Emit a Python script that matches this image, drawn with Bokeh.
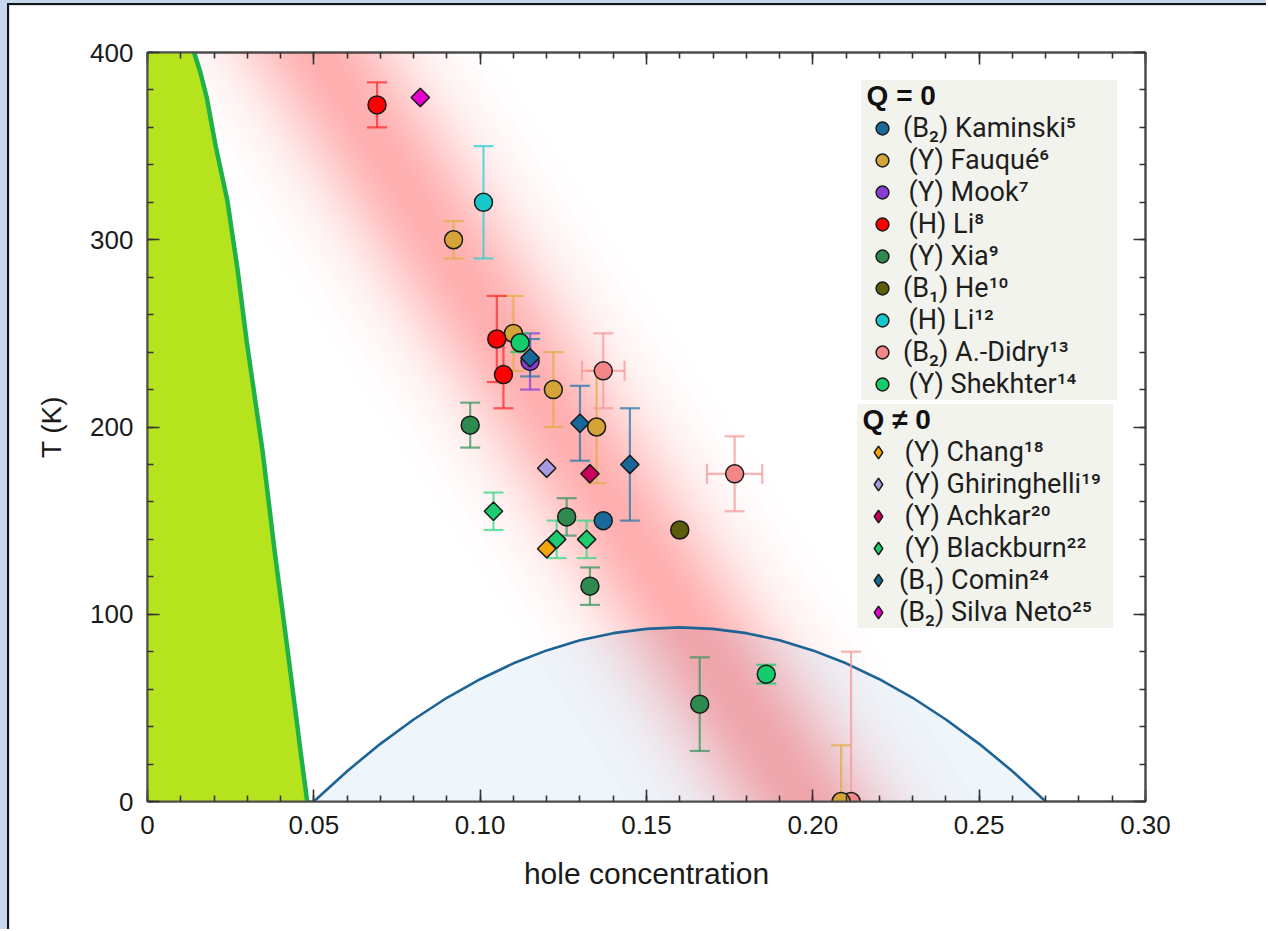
import numpy as np
from bokeh.plotting import figure
from bokeh.models import (ColumnDataSource, Legend, LegendItem, LinearAxis,
                          FixedTicker, Range1d)
from bokeh.layouts import column
from bokeh.embed import file_html
from bokeh.resources import INLINE

# ---------------- data ----------------
x_ticks = [0, 0.05, 0.10, 0.15, 0.20, 0.25, 0.30]
x_tick_labels = ["0", "0.05", "0.10", "0.15", "0.20", "0.25", "0.30"]
y_ticks = [0, 100, 200, 300, 400]
y_tick_labels = ["0", "100", "200", "300", "400"]

# superconducting dome
dome_p = [0.05, 0.06, 0.07, 0.08, 0.09, 0.10, 0.11, 0.12, 0.13, 0.14, 0.15, 0.16,
          0.17, 0.18, 0.19, 0.20, 0.21, 0.22, 0.23, 0.24, 0.25, 0.26, 0.27]
dome_T = [0, 16.2, 30.8, 43.8, 55.4, 65.3, 73.8, 80.7, 86.1, 89.9, 92.2, 93.0,
          92.2, 89.9, 86.1, 80.7, 73.8, 65.3, 55.4, 43.8, 30.8, 16.2, 0]

# antiferromagnetic boundary
af_p = [0.0, 0.0140, 0.0158, 0.0178, 0.0205, 0.024, 0.027, 0.0298, 0.0346, 0.0382, 0.0421, 0.046, 0.048]
af_T = [400, 400, 390, 376, 350, 321, 285, 246, 187, 134, 81, 27, 0]

# Q = 0 series
kaminski_p = [0.137]; kaminski_T = [150]
fauque_p = [0.092, 0.110, 0.122, 0.135, 0.2085]; fauque_T = [300, 250, 220, 200, 0]; fauque_err = [10, 20, 20, 30, 30]
mook_p = [0.115]; mook_T = [235]; mook_err = [15]
li8_p = [0.069, 0.105, 0.107]; li8_T = [372, 247, 228]; li8_err = [12, 23, 18]
xia_p = [0.097, 0.126, 0.133, 0.166]; xia_T = [201, 152, 115, 52]; xia_err = [12, 10, 10, 25]
he_p = [0.160]; he_T = [145]
li12_p = [0.101]; li12_T = [320]; li12_err = [30]
didry_p = [0.137, 0.1765, 0.2115]; didry_T = [230, 175, 0]; didry_err = [20, 20, 80]; didry_xerr = [0.0064, 0.0083, 0]
shekhter_p = [0.112, 0.186]; shekhter_T = [245, 68]; shekhter_err = [5, 5]

# Q != 0 series
chang_p = [0.120]; chang_T = [135]
ghiring_p = [0.120]; ghiring_T = [178]
achkar_p = [0.133]; achkar_T = [175]
blackburn_p = [0.104, 0.123, 0.132]; blackburn_T = [155, 140, 140]; blackburn_err = [10, 10, 10]
comin_p = [0.115, 0.130, 0.145]; comin_T = [237, 202, 180]; comin_err = [10, 20, 30]
silva_p = [0.082]; silva_T = [376]

# pseudogap band (decoration)
BAND_Q_AT_T0 = 0.197
BAND_SLOPE = -0.000364
BAND_SIGMA = 0.025
BAND_PEAK = 0.24
BAND_COLOR = "#ff1f1f"

FONT = "Liberation Sans"
LFONT = "Roboto"

# ---------------- figure ----------------
p = figure(width=1259, height=926, x_range=Range1d(0, 0.30), y_range=Range1d(0, 400),
           output_backend="svg", toolbar_location=None,
           min_border_left=138, min_border_right=123, min_border_top=47, min_border_bottom=130,
           background_fill_color="white", border_fill_color="white")
p.xgrid.visible = False
p.ygrid.visible = False
p.outline_line_color = "#555555"
p.outline_line_width = 2
# range used only by legend proxies (their points fall outside the frame)
p.extra_y_ranges = {"legend_only": Range1d(-2000, -1999)}

minor_x = list(np.round(np.arange(0, 0.3001, 0.01), 3))
minor_y = list(range(0, 401, 20))


def style_axis(ax, show_labels, overrides):
    ax.axis_line_color = "#4d4d4d"
    ax.axis_line_width = 2
    ax.major_tick_line_color = "#333333"
    ax.major_tick_line_width = 1.6
    ax.minor_tick_line_color = "#333333"
    ax.minor_tick_line_width = 1.6
    ax.major_tick_in = 12
    ax.major_tick_out = 0
    ax.minor_tick_in = 6
    ax.minor_tick_out = 0
    ax.major_label_standoff = 14
    ax.major_label_text_font = FONT
    ax.major_label_text_font_size = "26px"
    ax.major_label_text_color = "#1a1a1a"
    ax.major_label_overrides = overrides if show_labels else {k: "" for k in overrides}
    ax.axis_label_text_font = FONT
    ax.axis_label_text_font_style = "normal"
    ax.axis_label_text_color = "#1a1a1a"


xt = FixedTicker(ticks=x_ticks, minor_ticks=minor_x)
yt = FixedTicker(ticks=y_ticks, minor_ticks=minor_y)
xo = dict(zip(x_ticks, x_tick_labels))
yo = dict(zip(y_ticks, y_tick_labels))
p.xaxis.ticker = xt
p.yaxis.ticker = yt
style_axis(p.xaxis[0], True, xo)
style_axis(p.yaxis[0], True, yo)
p.xaxis.axis_label = "hole concentration"
p.xaxis.axis_label_text_font_size = "30px"
p.xaxis.axis_label_standoff = 20
p.yaxis.axis_label = "T (K)"
p.yaxis.axis_label_text_font_size = "28px"
p.yaxis.axis_label_standoff = 20
top_ax = LinearAxis(ticker=FixedTicker(ticks=x_ticks, minor_ticks=minor_x))
right_ax = LinearAxis(ticker=FixedTicker(ticks=y_ticks, minor_ticks=minor_y))
style_axis(top_ax, False, xo)
style_axis(right_ax, False, yo)
p.add_layout(top_ax, "above")
p.add_layout(right_ax, "right")

# ---------------- background regions ----------------
p.varea(x=dome_p, y1=0, y2=dome_T, fill_color="#eef5fb", level="image")

n_layers = 40
levels = BAND_PEAK * (np.arange(n_layers) + 0.5) / n_layers
halfw = BAND_SIGMA * np.sqrt(np.log(BAND_PEAK / levels))
layer_alpha = 1 - (1 - BAND_PEAK) ** (1.0 / n_layers)
t_lo, t_hi = -10.0, 410.0
qc_lo = BAND_Q_AT_T0 + BAND_SLOPE * t_lo
qc_hi = BAND_Q_AT_T0 + BAND_SLOPE * t_hi
band_xs = [[qc_lo - h, qc_lo + h, qc_hi + h, qc_hi - h] for h in halfw]
band_ys = [[t_lo, t_lo, t_hi, t_hi] for _ in halfw]
p.patches(band_xs, band_ys, fill_color=BAND_COLOR, fill_alpha=layer_alpha,
          line_color=None, level="image")

p.line(dome_p, dome_T, line_color="#1d6394", line_width=2.6, level="underlay")
p.harea(y=af_T, x1=0, x2=af_p, fill_color="#b5e31e", level="underlay")
p.line(af_p[1:], af_T[1:], line_color="#1fb24a", line_width=4.5, level="underlay")


# ---------------- error bars ----------------
def yerr_bars(q, t, err, color):
    lo = [ti - e for ti, e in zip(t, err)]
    hi = [ti + e for ti, e in zip(t, err)]
    src = ColumnDataSource(dict(x=q, lo=lo, hi=hi))
    p.segment(x0="x", y0="lo", x1="x", y1="hi", source=src, line_color=color,
              line_width=2.2, line_alpha=0.75, level="underlay")
    p.scatter(x="x", y="hi", source=src, marker="dash", size=20, line_color=color,
              line_width=2.2, line_alpha=0.75, level="underlay")
    p.scatter(x="x", y="lo", source=src, marker="dash", size=20, line_color=color,
              line_width=2.2, line_alpha=0.75, level="underlay")


def xerr_bars(q, t, xerr, color):
    keep = [i for i, e in enumerate(xerr) if e > 0]
    lo = [q[i] - xerr[i] for i in keep]
    hi = [q[i] + xerr[i] for i in keep]
    src = ColumnDataSource(dict(y=[t[i] for i in keep], lo=lo, hi=hi))
    p.segment(x0="lo", y0="y", x1="hi", y1="y", source=src, line_color=color,
              line_width=2.2, line_alpha=0.75, level="underlay")
    for col in ("lo", "hi"):
        p.scatter(x=col, y="y", source=src, marker="dash", angle=np.pi / 2, size=20,
                  line_color=color, line_width=2.2, line_alpha=0.75, level="underlay")


C_KAM = "#1b6a9a"; C_FAU = "#d4a437"; C_MOOK = "#8a3dd6"; C_LI8 = "#ff0000"
C_XIA = "#2e8a4e"; C_HE = "#5c5c0a"; C_LI12 = "#16c8cc"; C_DID = "#f38787"
C_SHE = "#14cc6a"; C_CHA = "#f5a50a"; C_GHI = "#a89adf"; C_ACH = "#c8005c"
C_BLA = "#1ecc70"; C_COM = "#17679a"; C_SIL = "#e800d0"

yerr_bars(fauque_p, fauque_T, fauque_err, "#e0ac48")
yerr_bars(mook_p, mook_T, mook_err, C_MOOK)
yerr_bars(li8_p, li8_T, li8_err, "#ff2a2a")
yerr_bars(xia_p, xia_T, xia_err, "#3c9460")
yerr_bars(li12_p, li12_T, li12_err, "#2fd0d4")
yerr_bars(didry_p, didry_T, didry_err, "#f59a9a")
xerr_bars(didry_p, didry_T, didry_xerr, "#f59a9a")
yerr_bars(shekhter_p, shekhter_T, shekhter_err, C_SHE)
yerr_bars(blackburn_p, blackburn_T, blackburn_err, "#3bd888")
yerr_bars(comin_p, comin_T, comin_err, "#2a78ac")

# ---------------- markers ----------------
def circ(q, t, color):
    return p.scatter(q, t, marker="circle", size=18, fill_color=color,
                     line_color="#1a1a1a", line_width=1.5)


def diam(q, t, color):
    r = p.scatter(q, t, marker="square", angle=np.pi / 4, size=13, fill_color=color,
                  line_color="#1a1a1a", line_width=1.5)
    # legend proxy: same data on an off-frame range, so it only shows in the legend
    proxy = p.scatter(q, t, marker="diamond", size=13, fill_color=color,
                      line_color="#1a1a1a", line_width=1.5, y_range_name="legend_only")
    return r, proxy


r_did = circ(didry_p, didry_T, C_DID)
r_mook = circ(mook_p, mook_T, C_MOOK)
r_com, l_com = diam(comin_p, comin_T, C_COM)
r_kam = circ(kaminski_p, kaminski_T, C_KAM)
r_fau = circ(fauque_p, fauque_T, C_FAU)
r_li8 = circ(li8_p, li8_T, C_LI8)
r_she = circ(shekhter_p, shekhter_T, C_SHE)
r_xia = circ(xia_p, xia_T, C_XIA)
r_he = circ(he_p, he_T, C_HE)
r_li12 = circ(li12_p, li12_T, C_LI12)
r_cha, l_cha = diam(chang_p, chang_T, C_CHA)
r_ghi, l_ghi = diam(ghiring_p, ghiring_T, C_GHI)
r_ach, l_ach = diam(achkar_p, achkar_T, C_ACH)
r_bla, l_bla = diam(blackburn_p, blackburn_T, C_BLA)
r_sil, l_sil = diam(silva_p, silva_T, C_SIL)

# ---------------- legends ----------------
ts = "\u2009"
items_q0 = [
    LegendItem(label="(B\u2082) Kaminski\u2075", renderers=[r_kam]),
    LegendItem(label=ts + "(Y) Fauqué\u2076", renderers=[r_fau]),
    LegendItem(label=ts + "(Y) Mook\u2077", renderers=[r_mook]),
    LegendItem(label=ts + "(H) Li\u2078", renderers=[r_li8]),
    LegendItem(label=ts + "(Y) Xia\u2079", renderers=[r_xia]),
    LegendItem(label="(B\u2081) He\u00b9\u2070", renderers=[r_he]),
    LegendItem(label=ts + "(H) Li\u00b9\u00b2", renderers=[r_li12]),
    LegendItem(label="(B\u2082) A.-Didry\u00b9\u00b3", renderers=[r_did]),
    LegendItem(label=ts + "(Y) Shekhter\u00b9\u2074", renderers=[r_she]),
]
items_q1 = [
    LegendItem(label=ts + "(Y) Chang\u00b9\u2078", renderers=[l_cha]),
    LegendItem(label=ts + "(Y) Ghiringhelli\u00b9\u2079", renderers=[l_ghi]),
    LegendItem(label=ts + "(Y) Achkar\u00b2\u2070", renderers=[l_ach]),
    LegendItem(label=ts + "(Y) Blackburn\u00b2\u00b2", renderers=[l_bla]),
    LegendItem(label="(B\u2081) Comin\u00b2\u2074", renderers=[l_com]),
    LegendItem(label="(B\u2082) Silva Neto\u00b2\u2075", renderers=[l_sil]),
]

common = dict(padding=2, spacing=0, glyph_width=42, glyph_height=32, label_height=32,
              label_width=214, label_standoff=0, label_text_font=LFONT,
              label_text_font_size="27px", label_text_color="#1e1e1e",
              background_fill_color="#f3f3ee", background_fill_alpha=1.0,
              border_line_color=None, title_text_font=FONT, title_text_font_style="bold",
              title_text_font_size="28px", title_text_color="#111111", title_standoff=0)

leg_a = Legend(items=items_q0, title=ts + "Q = 0", location="top_right", margin=28, **common)
leg_b = Legend(items=items_q1, title=ts + "Q \u2260 0", location=(710, 173), margin=0, **common)
p.add_layout(leg_a)
p.add_layout(leg_b)

p.margin = (3, 0, 0, 7)
p.styles = {"border-left": "2px solid #141414", "border-top": "2px solid #141414"}
root = column(p, styles={"background-color": "#c7d8ee"})

open("out.html", "w").write(file_html(root, INLINE))
